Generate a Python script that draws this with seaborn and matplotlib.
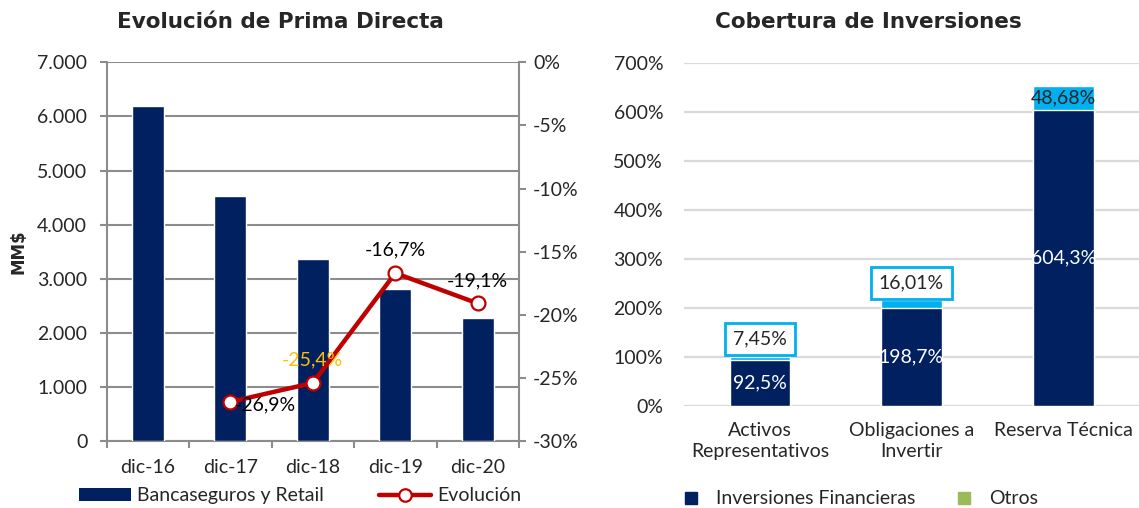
import seaborn as sns
import pandas as pd
import numpy as np
import matplotlib
import matplotlib.pyplot as plt
from matplotlib.patches import Patch
from matplotlib.lines import Line2D
from matplotlib.ticker import FuncFormatter
matplotlib.use('Agg')

# left chart data
periods = ["dic-16", "dic-17", "dic-18", "dic-19", "dic-20"]
prima = [6200, 4520, 3370, 2810, 2280]
evol_periods = ["dic-17", "dic-18", "dic-19", "dic-20"]
evolucion = [-26.9, -25.4, -16.7, -19.1]

# right chart data
coberturas = ["Activos\nRepresentativos", "Obligaciones a\nInvertir", "Reserva Técnica"]
inv_financieras = [92.5, 198.7, 604.3]
otros = [7.45, 16.01, 48.68]

NAVY = "#002060"
LBLUE = "#00B0F0"
RED = "#C00000"
GREEN = "#9BBB59"
GRID_DARK = "#8c8c8c"

sns.set_style("white")
plt.rcParams['font.family'] = ['Lato', 'DejaVu Sans']
fs = 14
W, H = 1139, 508

fig = plt.figure(figsize=(W / 100, H / 100), dpi=100)

# ---------------- left: Evolucion de Prima Directa
ax = fig.add_axes([106.7 / W, 67 / H, 412.3 / W, 378.7 / H])
df1 = pd.DataFrame({"periodo": periods, "prima": prima})
sns.barplot(data=df1, x="periodo", y="prima", color=NAVY, width=0.39,
            saturation=1, ax=ax, zorder=3)
ax.set_ylim(0, 7000)
ax.set_xlim(-0.5, 4.5)
ax.set_yticks(np.arange(0, 7001, 1000))
ax.yaxis.set_major_formatter(FuncFormatter(lambda v, p: f"{int(v):,}".replace(",", ".")))
ax.grid(axis="y", color=GRID_DARK, linewidth=1.5, zorder=0)
ax.set_axisbelow(True)
for s in ["left", "right", "bottom"]:
    ax.spines[s].set_color(GRID_DARK)
    ax.spines[s].set_linewidth(1.5)
ax.spines["top"].set_visible(False)
ax.set_xlabel("")
ax.set_ylabel("MM$", fontsize=12, fontweight="bold", family="DejaVu Sans")
ax.yaxis.set_label_coords((28 - 106.7) / 412.3, 0.5)
ax.tick_params(axis="y", labelsize=fs, length=5, width=1.5, color=GRID_DARK, left=True, pad=9)
ax.tick_params(axis="x", which="major", labelsize=fs, length=0, pad=13)
ax.set_xticks(np.arange(-0.5, 5, 1), minor=True)
ax.tick_params(axis="x", which="minor", length=5, width=1.5, color=GRID_DARK, bottom=True)

ax2 = ax.twinx()
xpos = [periods.index(p) for p in evol_periods]
df2 = pd.DataFrame({"x": xpos, "evol": evolucion})
sns.lineplot(data=df2, x="x", y="evol", ax=ax2, color=RED, linewidth=3.2,
             marker="o", markersize=10, markerfacecolor="white",
             markeredgecolor=RED, markeredgewidth=1.6, zorder=5)
ax2.set_ylim(-30, 0)
ax2.set_yticks(np.arange(-30, 1, 5))
ax2.yaxis.set_major_formatter(FuncFormatter(lambda v, p: f"{int(round(v))}%"))
ax2.tick_params(axis="y", labelsize=fs, length=5, width=1.5, color=GRID_DARK, right=True, pad=5)
ax2.set_ylabel("")
ax2.set_xlabel("")
for s in ax2.spines.values():
    s.set_visible(False)
ax2.set_xlim(-0.5, 4.5)

# data labels for the line
offsets = [(4, -3, "left", "#000000"),
           (0, 23, "center", "#FFC000"),
           (0, 23, "center", "#000000"),
           (0, 23, "center", "#000000")]
for xi, v, (dx, dy, ha, c) in zip(xpos, evolucion, offsets):
    ax2.annotate(f"{v:.1f}%".replace(".", ","), (xi, v), xytext=(dx, dy),
                 textcoords="offset pixels", ha=ha, va="center", fontsize=fs, color=c, zorder=6)

handles = [Patch(facecolor=NAVY, edgecolor="none"),
           Line2D([], [], color=RED, linewidth=3.2, marker="o", markersize=9,
                  markerfacecolor="white", markeredgecolor=RED, markeredgewidth=1.6)]
fig.legend(handles, ["Bancaseguros y Retail", "Evolución"], loc="center",
           bbox_to_anchor=(300 / W, 1 - 495.7 / H), ncol=2, frameon=False,
           fontsize=fs, handlelength=2.7, handleheight=0.62, handletextpad=0.32,
           columnspacing=2.8)

fig.text(280 / W, 1 - 28.3 / H, "Evolución de Prima Directa", ha="center", va="baseline",
         fontsize=15.5, fontweight="bold", family="DejaVu Sans")

# ---------------- right: Cobertura de Inversiones
axr = fig.add_axes([684 / W, (H - 405.7) / H, 455 / W, 343 / H])
totals = [a + b for a, b in zip(inv_financieras, otros)]
df3 = pd.DataFrame({"cat": coberturas, "total": totals, "inv": inv_financieras})
sns.barplot(data=df3, x="cat", y="total", color=LBLUE, width=0.4, saturation=1, ax=axr, zorder=3)
sns.barplot(data=df3, x="cat", y="inv", color=NAVY, width=0.4, saturation=1, ax=axr, zorder=4)
axr.set_ylim(0, 700)
axr.set_xlim(-0.5, 2.5)
axr.set_yticks(np.arange(0, 701, 100))
axr.yaxis.set_major_formatter(FuncFormatter(lambda v, p: f"{int(v)}%"))
axr.grid(axis="y", color="#d9d9d9", linewidth=1.6, zorder=0)
axr.set_axisbelow(True)
sns.despine(ax=axr, left=True, bottom=True)
axr.set_xlabel("")
axr.set_ylabel("")
axr.tick_params(axis="y", labelsize=fs, length=0, pad=15)
axr.tick_params(axis="x", labelsize=fs, length=0, pad=12)
for t in axr.get_xticklabels():
    t.set_linespacing(1.25)

for i, (inv, ot, tot) in enumerate(zip(inv_financieras, otros, totals)):
    axr.text(i, inv / 2, f"{inv:.1f}%".replace(".", ","), ha="center", va="center",
             color="white", fontsize=fs, zorder=6)
    lab = f"{ot:.2f}%".replace(".", ",")
    if i < 2:
        axr.annotate(lab, (i, tot), xytext=(0, 6.5), textcoords="offset points",
                     ha="center", va="bottom", fontsize=fs, zorder=6,
                     bbox=dict(boxstyle="square,pad=0.4", facecolor="white",
                               edgecolor=LBLUE, linewidth=2))
    else:
        axr.text(i, inv + ot / 2, lab, ha="center", va="center", fontsize=fs, zorder=6)

handles_r = [Line2D([], [], linestyle="none", marker="s", markersize=8, color=NAVY),
             Line2D([], [], linestyle="none", marker="s", markersize=8, color=GREEN)]
fig.legend(handles_r, ["Inversiones Financieras", "Otros"], loc="center",
           bbox_to_anchor=(861.5 / W, 1 - 499 / H), ncol=2, frameon=False,
           fontsize=fs, handlelength=0.6, handletextpad=1.0, columnspacing=2.2)

fig.text(868 / W, 1 - 28.3 / H, "Cobertura de Inversiones", ha="center", va="baseline",
         fontsize=15.5, fontweight="bold", family="DejaVu Sans")

fig.savefig("out.png", dpi=100)
